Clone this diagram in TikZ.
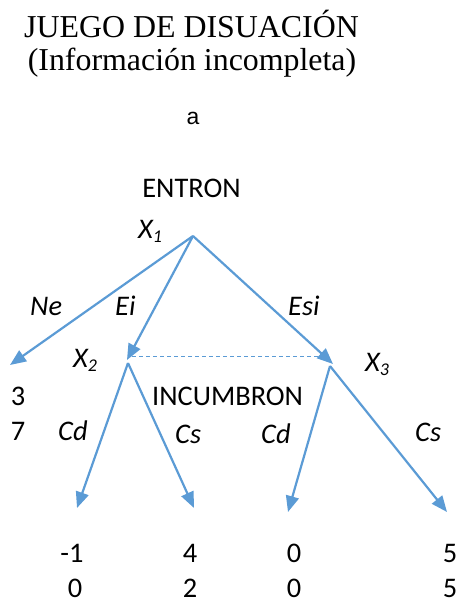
\documentclass[tikz,border=0pt]{standalone}
\usepackage{fontspec}
\setmainfont{Carlito}
\newfontfamily\timesf{Liberation Serif}
\newfontfamily\arialf{Liberation Sans}
\usetikzlibrary{arrows.meta}
\definecolor{edgeblue}{HTML}{5B9BD5}
\newcommand\subidx[1]{\raisebox{-0.35ex}{\fontsize{18}{18}\selectfont #1}}
\begin{document}
\begin{tikzpicture}[x=1bp,y=-1bp,
  move/.style={draw=edgeblue, line width=2.2bp, -{Triangle[length=16bp,width=13bp]}},
  info/.style={draw=edgeblue, line width=1bp, dash pattern=on 4bp off 3bp},
  lbl/.style={font=\fontsize{28.5}{30}\selectfont, inner sep=0, anchor=base west},
  act/.style={font=\fontsize{28.5}{30}\selectfont\itshape, inner sep=0, anchor=base west},
  pay/.style={font=\fontsize{28.5}{30}\selectfont, inner sep=0, anchor=base},
]
\useasboundingbox (0,0) rectangle (458,603);
% titles
\node[font=\timesf\fontsize{32}{34}\selectfont, inner sep=0, anchor=base] (t1) at (191.5,38) {JUEGO DE DISUACIÓN};
\node[font=\timesf\fontsize{32}{34}\selectfont, inner sep=0, anchor=base] (t2) at (192,71) {(Información incompleta)};
\node[font=\arialf\fontsize{23}{25}\selectfont, inner sep=0, anchor=base] (ta) at (193,125) {a};
\node[pay] (entron) at (191.5,197) {ENTRON};
% tree points
\coordinate (root) at (193,236);
\coordinate (n2) at (127,360);
\coordinate (n3) at (333,364);
\coordinate (s2) at (128,363);
\coordinate (s3) at (330,366);
\coordinate (leafNe) at (10,365);
\coordinate (l1) at (77,508);
\coordinate (l2) at (194,508);
\coordinate (l3) at (288,512);
\coordinate (l4) at (447,512);
\coordinate (d2) at (132,356);
\coordinate (d3) at (322,356);
% moves
\draw[move] (root) -- (leafNe);
\draw[move] (root) -- (n2);
\draw[move] (root) -- (n3);
\draw[info] (d2) -- (d3);
\draw[move] (s2) -- (l1);
\draw[move] (s2) -- (l2);
\draw[move] (s3) -- (l3);
\draw[move] (s3) -- (l4);
% node labels
\node[act] (x1) at (138,238) {X\subidx{1}};
\node[act] (x2) at (73,367) {X\subidx{2}};
\node[act] (x3) at (365,371) {X\subidx{3}};
\node[lbl] (incumbron) at (152,405) {INCUMBRON};
% action labels
\node[act] (ne) at (30,315) {Ne};
\node[act] (ei) at (115,315) {Ei};
\node[act] (esi) at (288,315) {Esi};
\node[act] (cd1) at (58,440) {Cd};
\node[act] (cs1) at (175,443) {Cs};
\node[act] (cd2) at (261,443) {Cd};
\node[act] (cs2) at (415,441) {Cs};
% payoffs
\node[pay] (p0a) at (18,405) {3};
\node[pay] (p0b) at (18,440) {7};
\node[pay] (p1a) at (72,562) {-1};
\node[pay] (p1b) at (75,597) {0};
\node[pay] (p2a) at (190,562) {4};
\node[pay] (p2b) at (190,597) {2};
\node[pay] (p3a) at (294,562) {0};
\node[pay] (p3b) at (294,597) {0};
\node[pay] (p4a) at (450,562) {5};
\node[pay] (p4b) at (450,597) {5};
\end{tikzpicture}
\end{document}
